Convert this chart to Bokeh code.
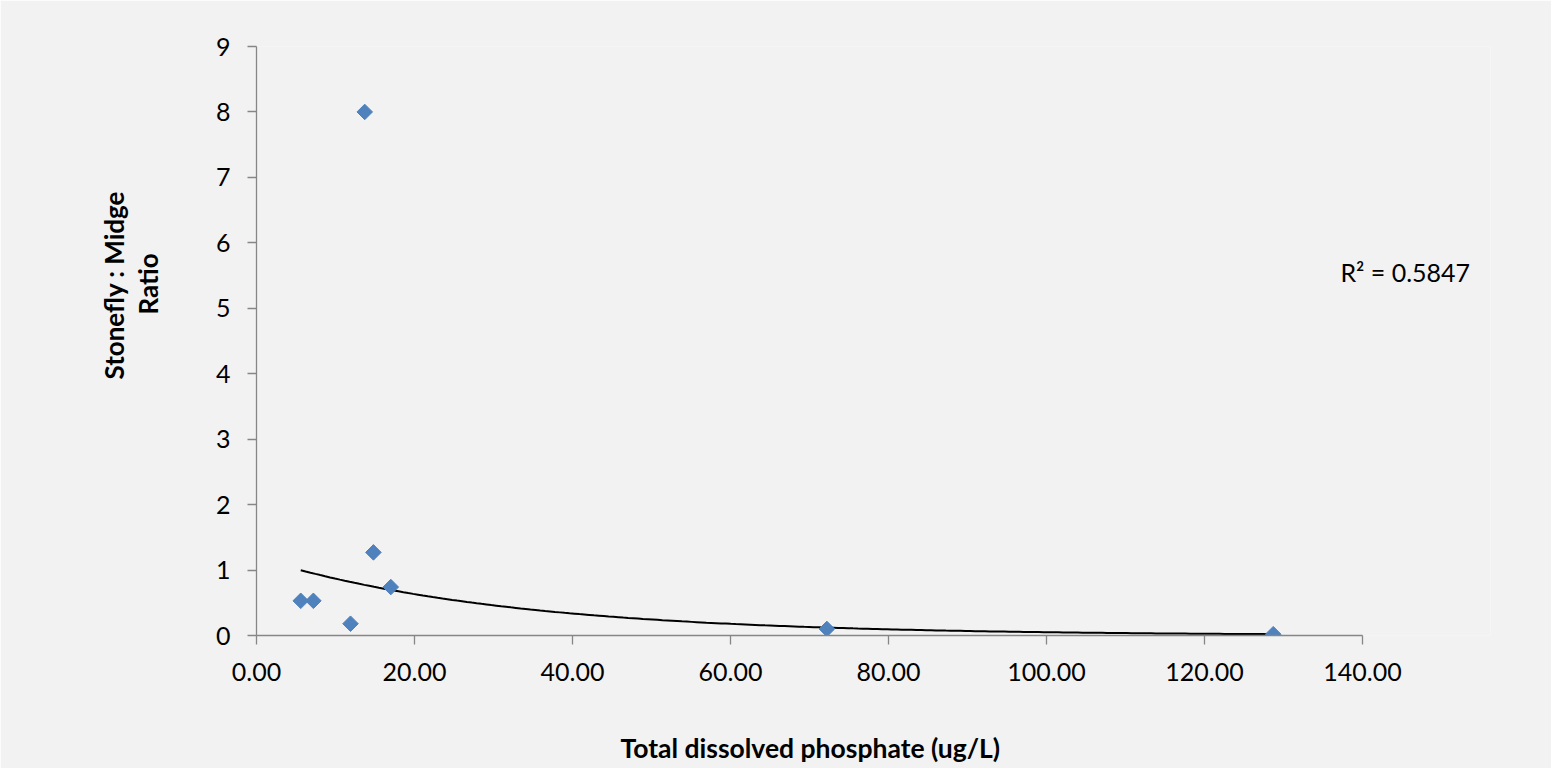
import numpy as np
from bokeh.plotting import figure
from bokeh.models import Range1d, Label, Title, SingleIntervalTicker, NumeralTickFormatter, ColumnDataSource
from bokeh.embed import file_html
from bokeh.resources import INLINE

# Data
phosphate = [5.6, 7.2, 11.9, 13.7, 14.8, 17.0, 72.2, 128.7]
ratio = [0.53, 0.53, 0.18, 8.0, 1.27, 0.74, 0.10, 0.02]
x_axis_limits = (0, 140)
y_axis_limits = (0, 9)
x_ticks_interval = 20
y_ticks_interval = 1
x_title = "Total dissolved  phosphate (ug/L)"
y_title_lines = ["Stonefly : Midge", "Ratio"]
r2_text = "R\u00b2 = 0.5847"

FONT = "Lato"
BG = "#f2f2f2"
AXIS_COLOR = "#868686"
MARKER_COLOR = "#4f81bd"

# frame spans a bit beyond the axis end so that the R² note (outside the axis) can be drawn
x_view_end = 156.2

p = figure(width=1551, height=768, output_backend="svg", toolbar_location=None,
           x_range=Range1d(x_axis_limits[0], x_view_end), y_range=Range1d(*y_axis_limits),
           min_border_left=256, min_border_right=61, min_border_top=46, min_border_bottom=133)
p.background_fill_color = BG
p.border_fill_color = BG
p.outline_line_color = None
p.xgrid.visible = False
p.ygrid.visible = False

for ax in (p.xaxis[0], p.yaxis[0]):
    ax.axis_line_color = AXIS_COLOR
    ax.axis_line_width = 1.3
    ax.major_tick_line_color = AXIS_COLOR
    ax.major_tick_line_width = 1.3
    ax.major_tick_out = 9
    ax.major_tick_in = 0
    ax.minor_tick_line_color = None
    ax.major_label_text_font = FONT
    ax.major_label_text_font_size = "25px"
    ax.major_label_text_color = "#000000"

p.xaxis[0].bounds = x_axis_limits
p.yaxis[0].bounds = y_axis_limits
p.xaxis[0].ticker = SingleIntervalTicker(interval=x_ticks_interval)
p.yaxis[0].ticker = SingleIntervalTicker(interval=y_ticks_interval)
p.xaxis[0].formatter = NumeralTickFormatter(format="0.00")
p.xaxis[0].major_label_standoff = 18
p.yaxis[0].major_label_standoff = 17

# Exponential trendline (least squares on ln y, as a spreadsheet trendline)
xs = np.array(phosphate)
ys = np.array(ratio)
b, lna = np.polyfit(xs, np.log(ys), 1)
tx = np.linspace(xs.min(), xs.max(), 200)
ty = np.exp(lna) * np.exp(b * tx)
p.line(tx, ty, line_color="#000000", line_width=2)

src = ColumnDataSource(dict(x=phosphate, y=ratio))
p.scatter("x", "y", source=src, marker="square", angle=np.pi / 4, size=11,
          fill_color=MARKER_COLOR, line_color=MARKER_COLOR)

p.add_layout(Label(x=137.2, y=5.55, text=r2_text, text_font=FONT, text_font_size="25px",
                   text_baseline="middle", text_align="left", text_color="#000000"))

# spacing between axes and their titles
p.add_layout(Title(text=" ", standoff=43, text_font_size="1px"), "below")
p.add_layout(Title(text=" ", standoff=46, text_font_size="1px"), "left")

# axis titles
p.add_layout(Title(text=x_title, align="left", offset=364, standoff=0,
                   text_font=FONT, text_font_size="26.5px", text_font_style="bold",
                   text_color="#000000"), "below")
p.add_layout(Title(text=y_title_lines[1], align="left", offset=321, standoff=0,
                   text_font=FONT, text_font_size="26px", text_font_style="bold",
                   text_color="#000000"), "left")
p.add_layout(Title(text=y_title_lines[0], align="left", offset=256, standoff=0,
                   text_font=FONT, text_font_size="26px", text_font_style="bold",
                   text_color="#000000"), "left")

open("out.html", "w").write(file_html(p, INLINE))
